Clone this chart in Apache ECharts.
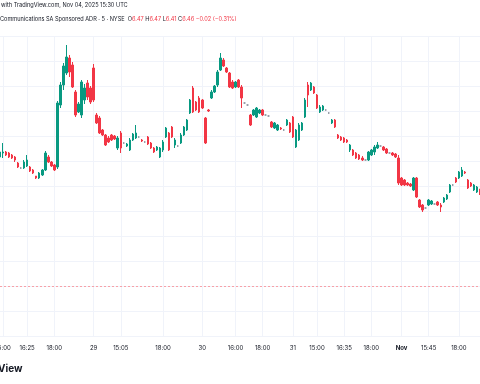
<!DOCTYPE html>
<html><head><meta charset="utf-8">
<script src="https://cdn.jsdelivr.net/npm/echarts@6/dist/echarts.min.js"></script>
<style>html,body{margin:0;padding:0;background:#fff}#c{width:480px;height:384px}</style>
</head><body><div id="c"></div>
<script>
// candle values: [open, close, low, high]
const candles = [
[6.79,6.84,6.78,6.86],[6.83,6.84,6.78,6.93],[6.84,6.81,6.80,6.85],[6.83,6.79,6.78,6.84],[6.81,6.78,6.77,6.82],
[6.79,6.76,6.74,6.80],[6.73,6.69,6.68,6.74],[6.68,6.68,6.67,6.69],[6.68,6.74,6.67,6.76],[6.70,6.76,6.69,6.81],
[6.69,6.65,6.64,6.70],[6.66,6.63,6.62,6.67],[6.60,6.58,6.57,6.60],[6.58,6.63,6.57,6.64],[6.61,6.66,6.60,6.67],
[6.66,6.83,6.65,6.85],[6.79,6.74,6.73,6.81],[6.74,6.70,6.69,6.75],[6.71,6.66,6.65,6.72],[6.69,7.33,6.67,7.35],
[7.31,7.51,7.28,7.54],[7.51,7.70,7.46,7.73],[7.63,7.79,7.61,7.91],[7.78,7.64,7.59,7.81],[7.71,7.49,7.48,7.74],
[7.44,7.21,7.19,7.46],[7.24,7.32,7.23,7.34],[7.21,7.54,7.18,7.56],[7.36,7.48,7.32,7.52],[7.53,7.39,7.36,7.56],
[7.48,7.34,7.32,7.50],[7.68,7.36,7.34,7.72],[7.21,7.13,7.12,7.23],[7.18,7.03,7.02,7.20],[7.06,7.01,7.00,7.07],
[7.01,6.91,6.90,7.02],[6.98,6.94,6.93,7.00],[7.01,6.96,6.95,7.02],[7.00,6.97,6.96,7.01],[6.88,6.98,6.86,7.00],
[7.03,6.88,6.83,7.05],[6.93,6.93,6.92,6.94],[6.90,6.92,6.89,6.93],[6.86,6.96,6.85,6.98],[6.96,7.02,6.95,7.03],
[6.98,7.03,6.97,7.11],[6.99,6.99,6.98,7.00],[6.96,6.95,6.94,6.97],[6.94,6.94,6.93,6.95],[6.99,6.92,6.91,7.00],
[6.93,6.88,6.87,6.94],[6.88,6.84,6.83,6.89],[6.86,6.89,6.85,6.90],[6.79,6.88,6.78,6.89],[6.86,6.94,6.84,6.96],
[6.99,7.08,6.98,7.09],[7.03,6.86,6.85,7.04],[7.09,6.99,6.98,7.10],[6.91,6.96,6.88,6.98],[6.90,6.90,6.89,6.91],
[6.93,7.01,6.92,7.03],[7.01,7.09,7.00,7.10],[7.06,7.16,7.05,7.17],[7.23,7.36,7.22,7.37],[7.48,7.24,7.23,7.50],
[7.34,7.26,7.25,7.35],[7.38,7.24,7.23,7.40],[7.36,7.28,7.27,7.37],[7.18,6.93,6.92,7.19],[7.26,7.25,7.24,7.27],
[7.38,7.44,7.37,7.46],[7.44,7.50,7.43,7.51],[7.51,7.64,7.49,7.66],[7.66,7.78,7.65,7.83],[7.76,7.70,7.69,7.78],
[7.68,7.64,7.63,7.69],[7.63,7.49,7.48,7.64],[7.54,7.48,7.47,7.56],[7.49,7.54,7.48,7.55],[7.56,7.49,7.48,7.57],
[7.49,7.38,7.28,7.51],[7.33,7.33,7.32,7.34],[7.31,7.31,7.30,7.32],[7.21,7.11,7.10,7.22],[7.21,7.26,7.20,7.27],
[7.19,7.28,7.18,7.29],[7.23,7.26,7.22,7.27],[7.26,7.21,7.20,7.27],[7.21,7.21,7.20,7.22],[7.20,7.20,7.19,7.21],
[7.14,7.09,7.08,7.15],[7.08,7.13,7.07,7.14],[7.06,7.11,7.05,7.12],[7.08,7.07,7.06,7.09],[7.06,7.06,7.05,7.07],
[7.11,7.16,7.10,7.17],[7.13,7.04,7.03,7.14],[7.19,6.99,6.98,7.20],[6.89,7.06,6.88,7.07],[6.96,7.11,6.95,7.13],
[7.06,7.13,7.05,7.14],[7.19,7.36,7.18,7.38],[7.51,7.41,7.29,7.54],[7.46,7.53,7.45,7.54],[7.49,7.43,7.42,7.50],
[7.41,7.28,7.27,7.42],[7.24,7.29,7.23,7.31],[7.26,7.30,7.25,7.31],[7.26,7.26,7.25,7.27],[7.23,7.23,7.22,7.24],
[7.13,7.16,7.12,7.17],[7.16,7.09,7.08,7.17],[7.01,6.98,6.97,7.02],[6.99,6.96,6.95,7.00],[6.98,6.94,6.93,6.99],
[6.96,6.94,6.93,6.97],[6.86,6.91,6.84,6.92],[6.86,6.81,6.80,6.87],[6.83,6.78,6.77,6.84],[6.81,6.77,6.76,6.82],
[6.78,6.76,6.75,6.80],[6.76,6.76,6.75,6.77],[6.76,6.84,6.75,6.85],[6.81,6.86,6.80,6.87],[6.84,6.89,6.81,6.91],
[6.88,6.91,6.87,6.94],[6.90,6.90,6.89,6.91],[6.89,6.86,6.85,6.90],[6.87,6.83,6.82,6.88],[6.83,6.83,6.82,6.84],
[6.83,6.81,6.80,6.84],[6.82,6.79,6.78,6.83],[6.78,6.53,6.51,6.81],[6.58,6.51,6.50,6.59],[6.56,6.51,6.50,6.57],
[6.53,6.51,6.50,6.54],[6.52,6.50,6.49,6.53],[6.46,6.58,6.45,6.59],[6.58,6.39,6.38,6.59],[6.36,6.29,6.28,6.37],
[6.31,6.26,6.24,6.32],[6.28,6.28,6.27,6.29],[6.31,6.36,6.30,6.37],[6.32,6.35,6.31,6.36],[6.32,6.32,6.31,6.33],
[6.34,6.31,6.30,6.35],[6.31,6.29,6.24,6.33],[6.34,6.38,6.33,6.39],[6.37,6.41,6.36,6.42],[6.44,6.51,6.43,6.52],
[6.51,6.51,6.50,6.52],[6.58,6.54,6.53,6.59],[6.58,6.64,6.57,6.65],[6.60,6.66,6.59,6.69],[6.64,6.63,6.62,6.65],
[6.56,6.48,6.47,6.57],[6.53,6.50,6.49,6.54],[6.46,6.51,6.45,6.52],[6.44,6.49,6.43,6.50],[6.47,6.46,6.41,6.47]
];
const tickLabels = ['15:00','16:25','18:00','29','15:05','18:00','30','16:00','18:00','31','15:00','16:35','18:00','Nov','15:45','18:00'];
const tickBars   = [1, 9, 18, 31, 40, 54, 67, 78, 87, 97, 105, 114, 123, 133, 142, 152];
const priceLine = 5.50;
const headerLine1 = 'with TradingView.com, Nov 04, 2025 15:30 UTC';
const headerSymbol = 'Communications SA Sponsored ADR · 5 · NYSE';
const ohlc = {O:'6.47', H:'6.47', L:'6.41', C:'6.46', chg:'−0.02 (−0.31%)'};

const categories = candles.map((_, i) => String(i));
const isTick = (i) => tickBars.indexOf(i) >= 0;
const chart = echarts.init(document.getElementById('c'), null, {renderer:'canvas'});
const F = 'Inter, Roboto, "Noto Sans", sans-serif';
chart.setOption({
  animation:false,
  backgroundColor:'#ffffff',
  grid:{left:0, right:0, top:36, bottom:48, containLabel:false, outerBoundsMode:'none'},
  xAxis:{type:'category', data:categories, boundaryGap:false,
    axisLine:{show:false}, axisTick:{show:false},
    splitLine:{show:true, interval:(i)=>isTick(i), lineStyle:{color:'#f0f3fa', width:1}},
    axisLabel:{interval:(i)=>isTick(i), margin:9, fontSize:6, color:'#131722', fontFamily:F, hideOverlap:false,
      formatter:(v, i)=>{ const k = tickBars.indexOf(Number(v)); if(k<0) return ''; const t = tickLabels[k]; return t==='Nov' ? '{b|'+t+'}' : t; },
      rich:{b:{fontWeight:'bold', fontSize:6, color:'#131722', fontFamily:F}}}
  },
  yAxis:{type:'value', min:5.0, max:8.0, interval:0.25, position:'right',
    axisLabel:{show:false}, axisLine:{show:false}, axisTick:{show:false},
    splitLine:{show:true, lineStyle:{color:'#f0f3fa', width:1}}},
  series:[{type:'candlestick', data:candles, barWidth:2,
    itemStyle:{color:'#089981', color0:'#f23645', borderColor:'#089981', borderColor0:'#f23645', borderColorDoji:'#9aa0aa', borderWidth:1},
    markLine:{silent:true, symbol:['none','none'], label:{show:false},
      lineStyle:{color:'#f7a1a8', type:[2,2], width:1}, data:[{yAxis:priceLine}]}
  }],
  graphic:[
    {type:'text', left:1, top:2, style:{text:headerLine1, font:'5.6px '+F, fill:'#131722'}},
    {type:'text', left:0, top:16, style:{text:headerSymbol+'  {k|O}{v|'+ohlc.O+'} {k|H}{v|'+ohlc.H+'} {k|L}{v|'+ohlc.L+'} {k|C}{v|'+ohlc.C+'} {v|'+ohlc.chg+'}',
      font:'5.6px '+F, fill:'#131722',
      rich:{k:{fill:'#131722', font:'5.6px '+F}, v:{fill:'#f23645', font:'5.6px '+F}}}},
    {type:'text', left:-2, top:364, style:{text:'View', font:'bold 10px '+F, fill:'#131722'}}
  ]
});
</script></body></html>
